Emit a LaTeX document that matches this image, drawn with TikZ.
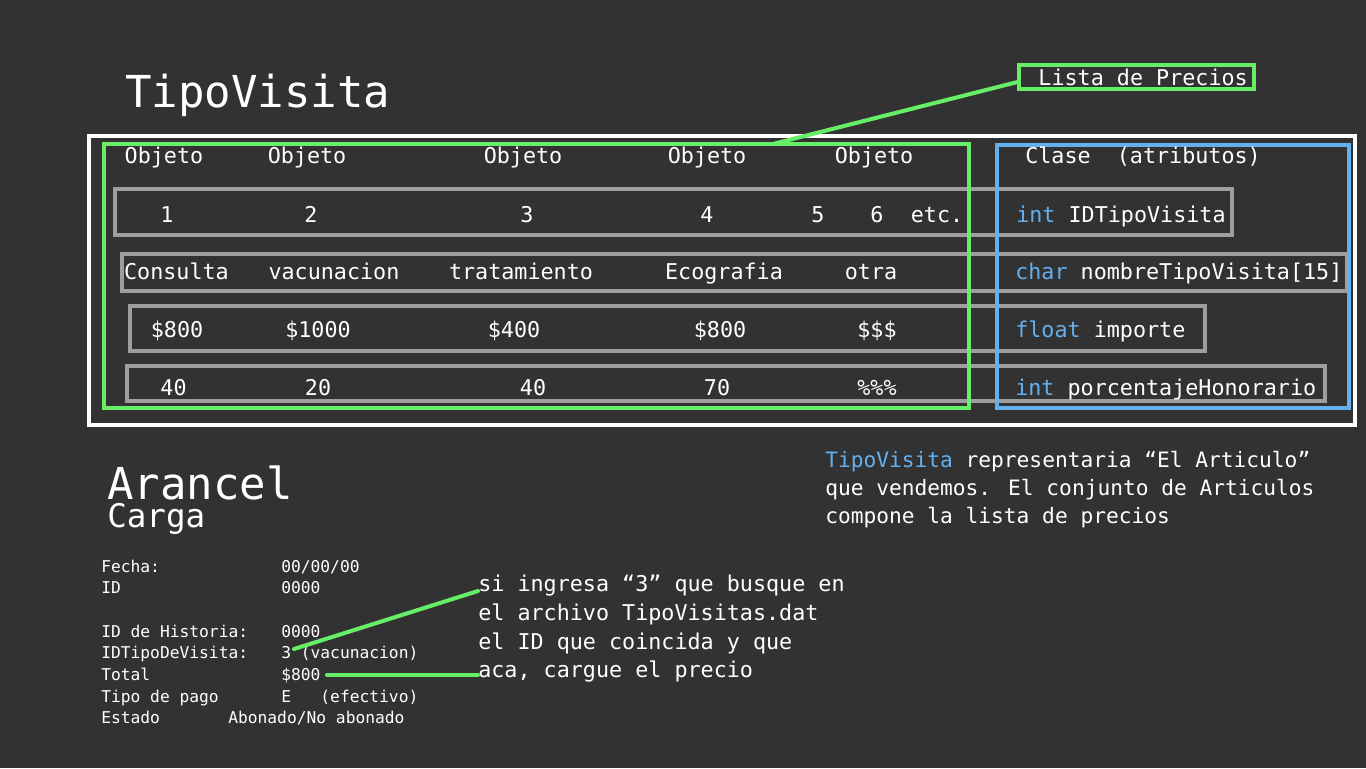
\documentclass[tikz,border=0pt]{standalone}
\usepackage{fontspec}
\setmainfont{DejaVu Sans Mono}
\usepackage{xcolor}
\definecolor{fondo}{HTML}{323232}
\definecolor{verde}{HTML}{66EE66}
\definecolor{azul}{HTML}{64AFEE}
\definecolor{gris}{HTML}{9E9E9E}
\tikzset{
  marco/.style={draw=white, line width=3pt},
  grupo/.style={draw=verde, line width=3pt},
  clase/.style={draw=azul, line width=3pt},
  fila/.style={draw=gris, line width=3pt},
  enlace/.style={draw=verde, line width=3pt, line cap=round},
  celda/.style={text=white, inner sep=0pt, anchor=base, font=\fontsize{16.3}{19}\selectfont},
  attr/.style={celda, anchor=base west},
  nota/.style={celda, anchor=base west},
  parrafo/.style={nota, font=\fontsize{15.9}{19}\selectfont},
  titulo/.style={text=white, inner sep=0pt, anchor=base west, font=\fontsize{33}{38}\selectfont},
  subtit/.style={titulo, font=\fontsize{24.4}{28}\selectfont},
  forma/.style={text=white, inner sep=0pt, anchor=base west, font=\fontsize{12.2}{14}\selectfont},
  lista/.style={draw=verde, line width=3pt, text=white, inner sep=0pt,
    minimum width=175.7pt, minimum height=18.5pt, font=\fontsize{16.3}{19}\selectfont}
}
\begin{document}
\begin{tikzpicture}[x=0.75pt,y=-0.75pt]
\fill[fondo] (0,0) rectangle (1366,768);

% titulo
\node[titulo] (tv) at (125,107) {TipoVisita};
\node[lista] (lista) at (1136.6,77) {~Lista de Precios};

% filas (registros)
\draw[fila] (115.3,189) rectangle (1231.7,235.3);
\draw[fila] (122,253.7) rectangle (1347,291);
\draw[fila] (130.3,306) rectangle (1204.7,350.7);
\draw[fila] (127,366.3) rectangle (1324.7,400.7);

% marcos
\draw[marco] (89,135.5) rectangle (1355,425.3);
\draw[grupo] (104,144) rectangle (968.5,407.5);
\draw[clase] (997,144.5) rectangle (1349,407.5);
\coordinate (pieLista) at (773,144);
\draw[enlace] (pieLista) -- ([yshift=-3.75pt]lista.west);

% objetos
\foreach \x [count=\i] in {164,307,523,707,874}
  \node[celda] (obj\i) at (\x,163) {Objeto};
\foreach \x/\t [count=\i] in {167/1,311/2,527/3,707/4,818/5,877/6,937/etc.}
  \node[celda] (id\i) at (\x,222) {\t};
\foreach \x/\t [count=\i] in {176.5/Consulta,334/vacunacion,521/tratamiento,724/Ecografia,871/otra}
  \node[celda] (nom\i) at (\x,279) {\t};
\foreach \x/\t [count=\i] in {177/\$800,318/\$1000,514/\$400,720/\$800,877/\$\$\$}
  \node[celda] (imp\i) at (\x,337) {\t};
\foreach \x/\t [count=\i] in {173.5/40,318/20,533/40,717/70,877/\%\%\%}
  \node[celda] (hon\i) at (\x,395) {\t};

% clase
\node[attr] (cla) at (1025,163) {Clase~~(atributos)};
\node[attr] (at1) at (1016,222) {\textcolor{azul}{int} IDTipoVisita};
\node[attr] (at2) at (1015,279) {\textcolor{azul}{char} nombreTipoVisita[15]};
\node[attr] (at3) at (1015,337) {\textcolor{azul}{float} importe};
\node[attr] (at4) at (1015,395) {\textcolor{azul}{int} porcentajeHonorario};

% explicacion
\node[parrafo] (par1) at (825,467) {\textcolor{azul}{TipoVisita} representaria “El Articulo”};
\node[parrafo] (par2) at (825,495) {que vendemos. El conjunto de Articulos};
\node[parrafo] (par3) at (825,523) {compone la lista de precios};

% arancel
\node[titulo, text depth=0pt] (ar) at (107,499) {Arancel};
\node[subtit] (carga) at (107,527) {Carga};
\foreach \y/\t [count=\i] in {572/Fecha:,593/ID,637/ID de Historia:,658/IDTipoDeVisita:,680/Total,702/Tipo de pago,723/Estado}
  \node[forma] (cam\i) at (101,\y) {\t};
\foreach \y/\t [count=\i] in {572/{00/00/00},593/0000,637/0000,658/3 (vacunacion),680/\$800,702/E~~~(efectivo)}
  \node[forma] (val\i) at (281,\y) {\t};
\node[forma] (val7) at (228,723) {Abonado/No abonado};

% notas
\foreach \y/\t [count=\i] in {591/si ingresa “3” que busque en,620/el archivo TipoVisitas.dat,649/el ID que coincida y que,677/{aca, cargue el precio}}
  \node[nota] (anot\i) at (478,\y) {\t};
\coordinate (desdeTipo) at (294,649);
\coordinate (desdeTotal) at (327,675);
\draw[enlace] (desdeTipo) -- (anot1.base west);
\draw[enlace] (desdeTotal) -- ([yshift=1.5pt]anot4.base west);
\end{tikzpicture}
\end{document}
